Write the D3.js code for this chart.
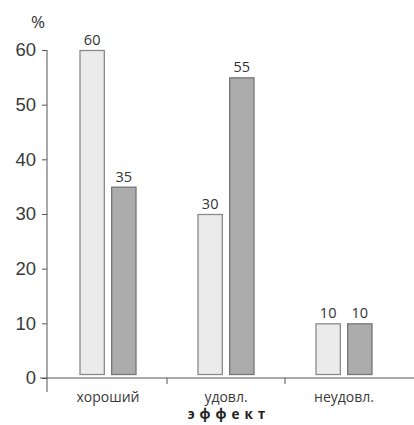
<!DOCTYPE html>
<html>
<head>
<meta charset="utf-8">
<script src="https://cdn.jsdelivr.net/npm/d3@7"></script>
<style>
  body { margin: 0; background: #fff; }
  svg { display: block; font-family: "Open Sans", "DejaVu Sans", sans-serif; }
</style>
</head>
<body>
<svg id="chart" width="414" height="425"></svg>
<script>
// Data
const categories = ['хороший', 'удовл.', 'неудовл.'];
const seriesA = [60, 30, 10];
const seriesB = [35, 55, 10];
const yTicks = [0, 10, 20, 30, 40, 50, 60];

const svg = d3.select('#chart');

const x = d3.scaleBand()
  .domain(categories)
  .range([49, 403])
  .padding(0);

const y = d3.scaleLinear()
  .domain([0, 60])
  .range([378, 50]);

// inner scale for the two bars in each group
const groupWidth = 57;
const xSub = d3.scaleBand()
  .domain([0, 1])
  .range([0, groupWidth])
  .paddingInner(0.2);

const fills = ['#ebebeb', '#acacac'];
const strokes = ['#8a8a8a', '#757575'];
const baseGap = 4;

// y axis
const yAxis = d3.axisLeft(y)
  .tickValues(yTicks)
  .tickSize(5)
  .tickPadding(6);

const yG = svg.append('g')
  .attr('transform', 'translate(47,0)')
  .call(yAxis);
yG.select('.domain').remove();
yG.append('line')
  .attr('x1', 0).attr('x2', 0)
  .attr('y1', y(60)).attr('y2', 392)
  .attr('stroke', '#555');
yG.selectAll('.tick line').attr('stroke', '#555');
yG.selectAll('.tick text')
  .attr('fill', '#3a3a3a')
  .style('font-size', '18.5px');

// x axis
svg.append('line')
  .attr('x1', 40).attr('x2', 414)
  .attr('y1', y(0)).attr('y2', y(0))
  .attr('stroke', '#555');

const xTickPos = categories.slice(1).map(c => x(c));
svg.selectAll('.x-tick')
  .data(xTickPos)
  .enter().append('line')
  .attr('class', 'x-tick')
  .attr('x1', d => d).attr('x2', d => d)
  .attr('y1', y(0)).attr('y2', y(0) + 6)
  .attr('stroke', '#555');

svg.selectAll('.cat-label')
  .data(categories)
  .enter().append('text')
  .attr('class', 'cat-label')
  .attr('x', d => x(d) + x.bandwidth() / 2)
  .attr('y', 402)
  .attr('text-anchor', 'middle')
  .attr('fill', '#3a3a3a')
  .style('font-size', '14px')
  .text(d => d);

svg.append('text')
  .attr('x', 229)
  .attr('y', 419)
  .attr('text-anchor', 'middle')
  .attr('fill', '#222')
  .style('font-size', '13.5px')
  .style('font-weight', 'bold')
  .style('letter-spacing', '5px')
  .text('эффект');

svg.append('text')
  .attr('x', 38)
  .attr('y', 28)
  .attr('text-anchor', 'middle')
  .attr('fill', '#333')
  .style('font-size', '17px')
  .text('%');

// bars
const rows = categories.map((c, i) => ({ cat: c, values: [seriesA[i], seriesB[i]] }));

const groups = svg.selectAll('.group')
  .data(rows)
  .enter().append('g')
  .attr('class', 'group')
  .attr('transform', d => `translate(${x(d.cat) + (x.bandwidth() - groupWidth) / 2},0)`);

groups.selectAll('rect')
  .data(d => d.values.map((v, j) => ({ v, j })))
  .enter().append('rect')
  .attr('x', d => xSub(d.j) + 0.5)
  .attr('y', d => y(d.v) + 0.5)
  .attr('width', xSub.bandwidth() - 1)
  .attr('height', d => y(0) - baseGap - y(d.v))
  .attr('fill', d => fills[d.j])
  .attr('stroke', d => strokes[d.j])
  .attr('stroke-width', 1.3);

groups.selectAll('.val')
  .data(d => d.values.map((v, j) => ({ v, j })))
  .enter().append('text')
  .attr('class', 'val')
  .attr('x', d => xSub(d.j) + xSub.bandwidth() / 2)
  .attr('y', d => y(d.v) - 5)
  .attr('text-anchor', 'middle')
  .attr('fill', '#333')
  .style('font-size', '14.5px')
  .text(d => d.v);
</script>
</body>
</html>
